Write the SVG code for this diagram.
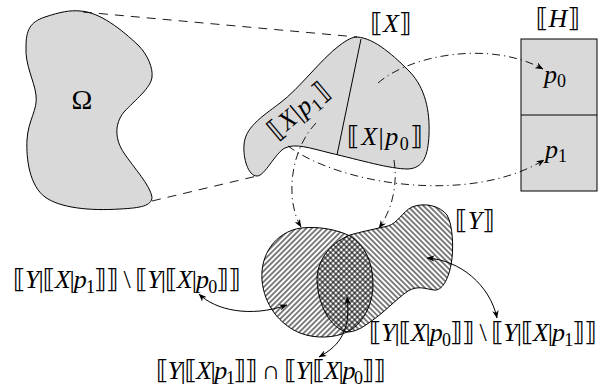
<svg xmlns="http://www.w3.org/2000/svg" width="611" height="391" viewBox="0 0 611 391">
<style>
.sh{fill:#d9d9d9;stroke:#000;stroke-width:1}
.ln{fill:none;stroke:#000;stroke-width:1}
.dash{fill:none;stroke:#000;stroke-width:0.9;stroke-dasharray:9,7}
.dd{fill:none;stroke:#000;stroke-width:0.9;stroke-dasharray:8,4,1.2,4}
.ar{fill:none;stroke:#000;stroke-width:1}
.t{font-family:"Liberation Serif","DejaVu Serif",serif;font-size:26px;fill:#000}
.i{font-style:italic}
.b{font-family:"DejaVu Sans",sans-serif;font-style:normal}
.s{font-size:18px;font-style:normal}
</style>
<defs>
<pattern id="ne" width="3.8" height="10" patternUnits="userSpaceOnUse" patternTransform="rotate(45)"><line x1="1.9" y1="-1" x2="1.9" y2="11" stroke="#000" stroke-width="1"/></pattern>
<pattern id="nw" width="3.8" height="10" patternUnits="userSpaceOnUse" patternTransform="rotate(-45)"><line x1="1.9" y1="-1" x2="1.9" y2="11" stroke="#000" stroke-width="1"/></pattern>
<marker id="ah" viewBox="0 0 10 8" refX="9.5" refY="4" markerWidth="8" markerHeight="6.4" markerUnits="userSpaceOnUse" orient="auto-start-reverse"><path d="M0,0 L10,4 L0,8 L3,4 Z" fill="#000"/></marker>
</defs>

<g id="omega">
<path class="sh" d="M80,11 C100,12 122,30 138,45 C148,55 153,68 152,77 C151,88 135,100 124,112 C114,124 115,140 124,153 C134,168 150,185 152,197 C152,206 140,208 120,209 C90,211 60,208 45,197 C30,186 26,160 27,140 C28,120 38,110 36,95 C34,80 25,65 26,47 C26,30 30,22 45,17 C60,12 70,10 80,11 Z"/>
<text class="t" x="82" y="109" text-anchor="middle" style="font-size:28px">Ω</text>
</g>

<g id="X">
<path class="sh" d="M357,37 C375,38 395,57 410,72 C425,88 430,110 429,135 C428,155 424,168 408,169 C390,169 360,160 330,153 C310,148 295,143 285,148 C275,153 265,176 257,176 C248,176 243,158 244,145 C245,128 260,118 280,103 C300,88 320,60 340,45 C347,40 352,37 357,37 Z"/>
<line class="ln" x1="361" y1="39" x2="337" y2="155"/>
<text class="t" x="391" y="32" text-anchor="middle"><tspan class="b">⟦</tspan><tspan class="i">X</tspan><tspan class="b">⟧</tspan></text>
<text class="t" x="304" y="117" text-anchor="middle" transform="rotate(-40 304 117)" textLength="72"><tspan class="b">⟦</tspan><tspan class="i">X</tspan>|<tspan class="i">p</tspan><tspan class="s" dy="5">1</tspan><tspan class="b" dy="-5">⟧</tspan></text>
<text class="t" x="385" y="145" text-anchor="middle" textLength="76"><tspan class="b">⟦</tspan><tspan class="i">X</tspan>|<tspan class="i">p</tspan><tspan class="s" dy="5">0</tspan><tspan class="b" dy="-5">⟧</tspan></text>
</g>

<g id="H">
<rect class="sh" x="521" y="39" width="76" height="152"/>
<line class="ln" x1="521" y1="115" x2="597" y2="115"/>
<text class="t" x="558" y="27" text-anchor="middle"><tspan class="b">⟦</tspan><tspan class="i">H</tspan><tspan class="b">⟧</tspan></text>
<text class="t" x="544" y="83"><tspan class="i">p</tspan><tspan class="s" dy="4">0</tspan></text>
<text class="t" x="545" y="158"><tspan class="i">p</tspan><tspan class="s" dy="4">1</tspan></text>
</g>

<g id="Y">
<path class="ln" style="fill:url(#ne)" d="M301,228 C320,226 338,230 350,236 C365,245 373,262 373,285 C373,305 362,325 347,332 C335,338 315,339 300,333 C280,325 264,305 262,280 C260,255 275,232 301,228 Z"/>
<path class="ln" style="fill:url(#nw)" d="M350,235 C360,232 375,229 388,226 C398,223 402,212 412,207 C425,202 440,206 447,215 C453,225 454,250 451,265 C448,280 442,291 434,290 C426,289 418,285 408,291 C395,300 385,312 370,322 C362,328 355,332 347,332 C330,328 318,305 317,280 C317,262 328,244 350,235 Z"/>
<text class="t" x="475" y="229" text-anchor="middle"><tspan class="b">⟦</tspan><tspan class="i">Y</tspan><tspan class="b">⟧</tspan></text>
</g>

<g id="labels">
<text id="lab-left" class="t" x="127" y="288" text-anchor="middle" textLength="228"><tspan class="b">⟦</tspan><tspan class="i">Y</tspan>|<tspan class="b">⟦</tspan><tspan class="i">X</tspan>|<tspan class="i">p</tspan><tspan class="s" dy="5">1</tspan><tspan class="b" dy="-5">⟧⟧</tspan> \ <tspan class="b">⟦</tspan><tspan class="i">Y</tspan>|<tspan class="b">⟦</tspan><tspan class="i">X</tspan>|<tspan class="i">p</tspan><tspan class="s" dy="5">0</tspan><tspan class="b" dy="-5">⟧⟧</tspan></text>
<text id="lab-right" class="t" x="483" y="341" text-anchor="middle" textLength="228"><tspan class="b">⟦</tspan><tspan class="i">Y</tspan>|<tspan class="b">⟦</tspan><tspan class="i">X</tspan>|<tspan class="i">p</tspan><tspan class="s" dy="5">0</tspan><tspan class="b" dy="-5">⟧⟧</tspan> \ <tspan class="b">⟦</tspan><tspan class="i">Y</tspan>|<tspan class="b">⟦</tspan><tspan class="i">X</tspan>|<tspan class="i">p</tspan><tspan class="s" dy="5">1</tspan><tspan class="b" dy="-5">⟧⟧</tspan></text>
<text id="lab-bottom" class="t" x="271" y="379" text-anchor="middle" textLength="230"><tspan class="b">⟦</tspan><tspan class="i">Y</tspan>|<tspan class="b">⟦</tspan><tspan class="i">X</tspan>|<tspan class="i">p</tspan><tspan class="s" dy="5">1</tspan><tspan class="b" dy="-5">⟧⟧</tspan> ∩ <tspan class="b">⟦</tspan><tspan class="i">Y</tspan>|<tspan class="b">⟦</tspan><tspan class="i">X</tspan>|<tspan class="i">p</tspan><tspan class="s" dy="5">0</tspan><tspan class="b" dy="-5">⟧⟧</tspan></text>
</g>

<g id="connectors">
<line class="dash" x1="83" y1="12" x2="357" y2="37"/>
<line class="dash" x1="152" y1="201" x2="257" y2="176"/>
<path class="dd" marker-end="url(#ah)" d="M378,83 C410,55 490,40 543,69"/>
<path class="dd" marker-end="url(#ah)" d="M288,146 C340,185 470,205 544,160"/>
<path class="dd" marker-end="url(#ah)" d="M316,123 C290,150 285,200 301,227"/>
<path class="dd" marker-end="url(#ah)" d="M394,160 C398,185 392,210 379,228"/>
<path class="ar" marker-start="url(#ah)" marker-end="url(#ah)" d="M199,294 C215,310 250,318 287,305"/>
<path class="ar" marker-start="url(#ah)" marker-end="url(#ah)" d="M319,357 C335,348 352,335 347,297"/>
<path class="ar" marker-start="url(#ah)" marker-end="url(#ah)" d="M427,258 C460,260 490,285 497,318"/>
</g>
</svg>
